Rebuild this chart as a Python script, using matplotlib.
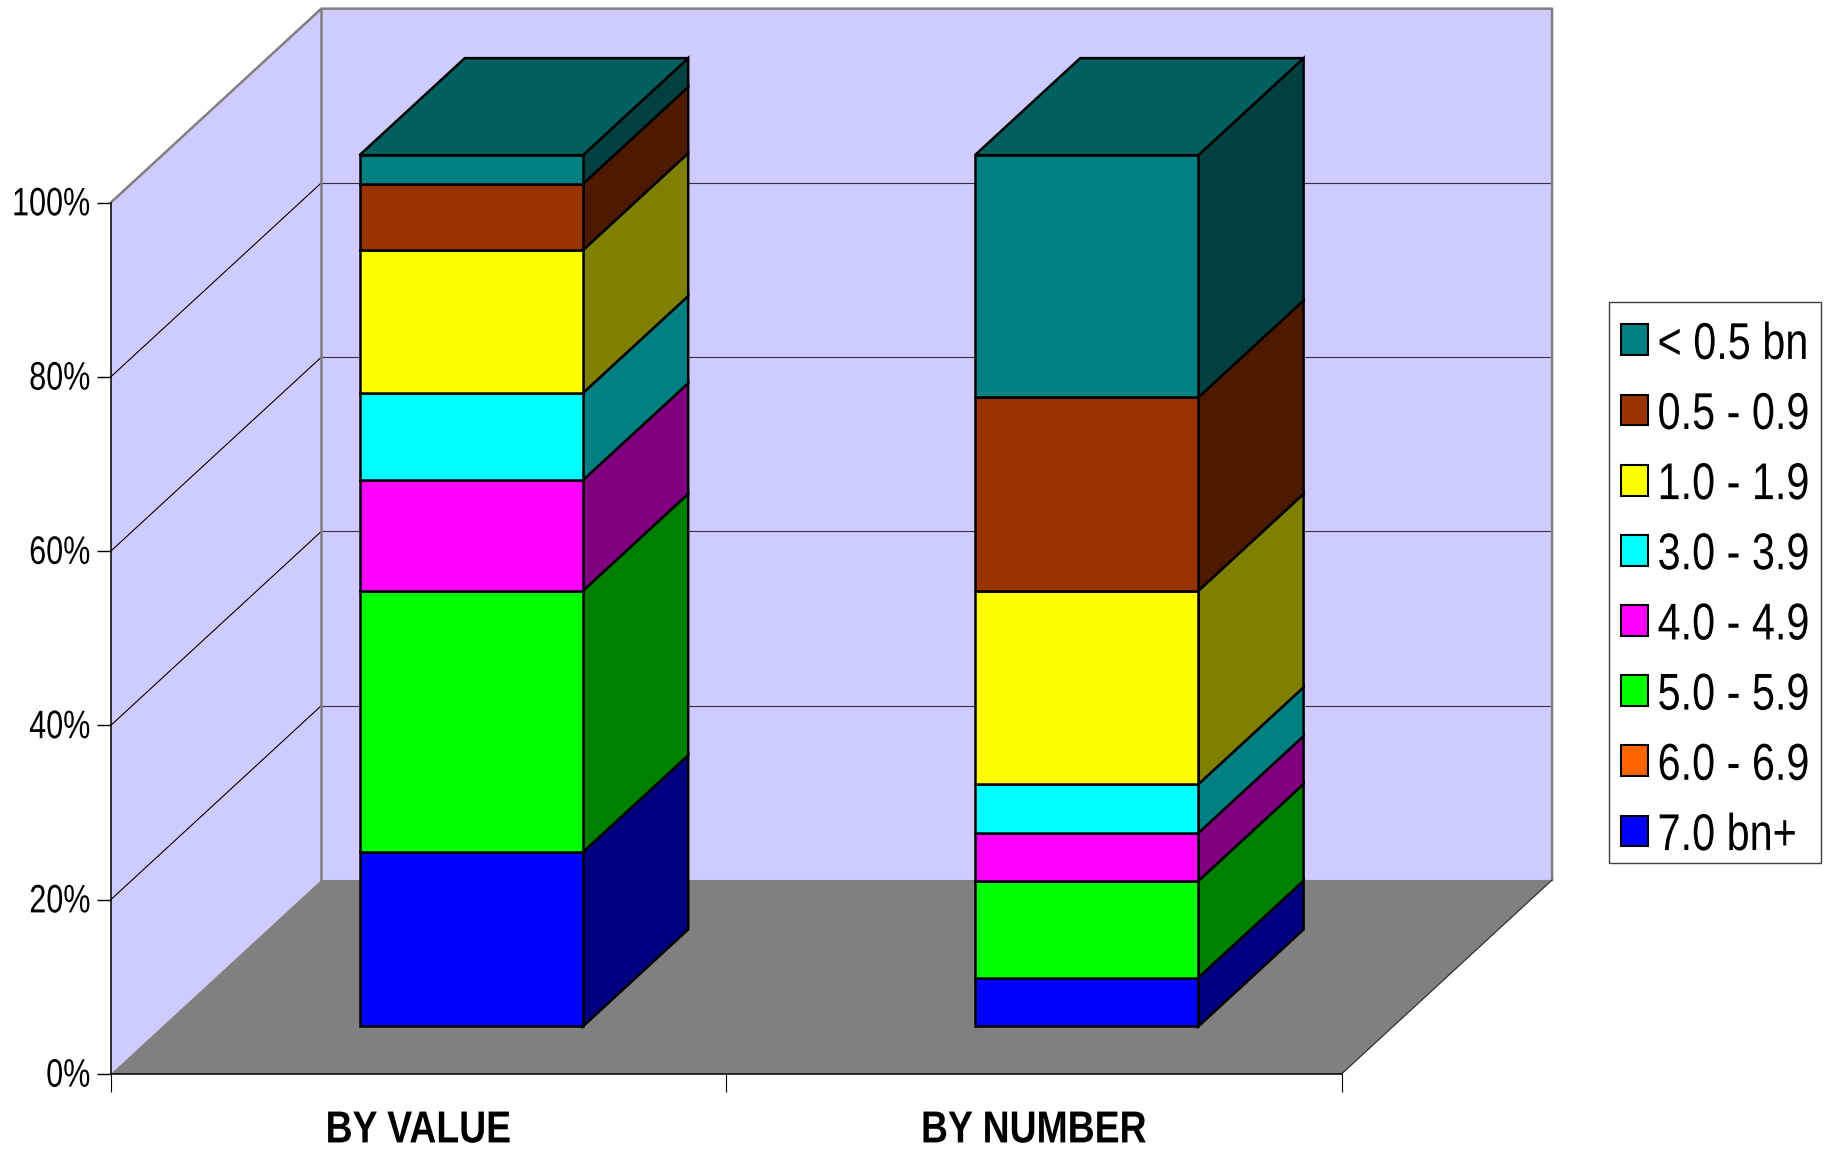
import matplotlib
matplotlib.use("Agg")
import matplotlib.pyplot as plt
from matplotlib.patches import Patch, Polygon, Rectangle
from matplotlib.patheffects import AbstractPathEffect
from matplotlib.transforms import Affine2D

# bottom to top of the stack, in percent
series = ['7.0 bn+', '6.0 - 6.9', '5.0 - 5.9', '4.0 - 4.9', '3.0 - 3.9', '1.0 - 1.9', '0.5 - 0.9', '< 0.5 bn']
by_value = [20, 0, 30, 12.7, 10, 16.4, 7.6, 3.3]
by_number = [5.6, 0, 11.1, 5.5, 5.6, 22.2, 22.2, 27.8]
categories = ['BY VALUE', 'BY NUMBER']
y_ticks = [0, 20, 40, 60, 80, 100]

front_colors = ['#0000FF', '#FF6600', '#00FF00', '#FF00FF', '#00FFFF', '#FFFF00', '#993300', '#008080']
side_colors = ['#000080', '#803300', '#008000', '#800080', '#008080', '#808000', '#4D1A00', '#004040']
top_color = '#006060'

W, H = 1829, 1149
fig = plt.figure(figsize=(W / 100, H / 100), dpi=100, facecolor='white')
ax = fig.add_axes([110.7 / W, (H - 1074) / H, 1230.8 / W, 871.3 / H])
ax.set_xlim(0, 2)
ax.set_ylim(0, 100)
ax.patch.set_visible(False)

FONT = 'Liberation Sans'


class Stretch(AbstractPathEffect):
    # the reference text is tall and narrow, so stretch glyphs up about their middle
    def __init__(self, sy, lift=0):
        super().__init__()
        self.sy = sy
        self.lift = lift

    def draw_path(self, renderer, gc, tpath, affine, rgbFace=None):
        ext = tpath.get_extents()
        mid = (ext.y0 + ext.y1) / 2
        tall = Affine2D().translate(0, -mid).scale(1, self.sy).translate(0, mid)
        renderer.draw_path(gc, tpath, tall + affine + Affine2D().translate(0, self.lift), rgbFace)


# oblique depth: d=1 is the back wall
DX = 0.3422
DY = 22.27


def proj(x, y, d):
    return (x + d * DX, y + d * DY)


def face(points, color, edge='none', lw=0.0, z=1):
    ax.add_patch(Polygon(points, closed=True, facecolor=color, edgecolor=edge,
                         linewidth=lw, joinstyle='miter', clip_on=False, zorder=z))


# walls and floor
wall = '#CCCCFF'
grey = '#808080'
face([proj(0, 0, 0), proj(0, 100, 0), proj(0, 100, 1), proj(0, 0, 1)], wall)
face([proj(0, 0, 1), proj(0, 100, 1), proj(2, 100, 1), proj(2, 0, 1)], wall)
face([proj(0, 0, 0), proj(0, 0, 1), proj(2, 0, 1), proj(2, 0, 0)], grey)

for y in y_ticks[1:-1]:
    xs, ys = zip(proj(0, y, 0), proj(0, y, 1))
    ax.plot(xs, ys, color='black', lw=0.8, clip_on=False, zorder=2)
    xs, ys = zip(proj(0, y, 1), proj(2, y, 1))
    ax.plot(xs, ys, color='#303040', lw=0.8, clip_on=False, zorder=2)

xs, ys = zip(proj(0, 100, 0), proj(0, 100, 1), proj(2, 100, 1), proj(2, 0, 1))
ax.plot(xs, ys, color=grey, lw=1.8, clip_on=False, zorder=2)
xs, ys = zip(proj(0, 100, 1), proj(0, 0, 1))
ax.plot(xs, ys, color=grey, lw=1.8, clip_on=False, zorder=2)
xs, ys = zip(proj(2, 0, 0), proj(2, 0, 1))
ax.plot(xs, ys, color='#303030', lw=0.9, clip_on=False, zorder=2)

# stacked 3d bars
bar_w = 0.363
d0 = 0.245
d1 = 0.745
edge_lw = 1.8
for i, values in enumerate([by_value, by_number]):
    x0 = i + 0.502 - bar_w / 2
    x1 = i + 0.502 + bar_w / 2
    base = 0
    for val, fc, sc in zip(values, front_colors, side_colors):
        if val == 0:
            continue
        top = base + val
        face([proj(x1, base, d0), proj(x1, top, d0), proj(x1, top, d1), proj(x1, base, d1)],
             sc, 'black', edge_lw, 3)
        face([proj(x0, base, d0), proj(x0, top, d0), proj(x1, top, d0), proj(x1, base, d0)],
             fc, 'black', edge_lw, 4)
        base = top
    face([proj(x0, base, d0), proj(x0, base, d1), proj(x1, base, d1), proj(x1, base, d0)],
         top_color, 'black', edge_lw, 5)

# axes
for side in ['top', 'right']:
    ax.spines[side].set_visible(False)
for side in ['left', 'bottom']:
    ax.spines[side].set_linewidth(1.1)
    ax.spines[side].set_zorder(6)

ax.set_yticks(y_ticks)
ax.set_yticklabels([f'{t}%' for t in y_ticks], fontfamily=FONT, fontsize=22)
ax.tick_params(axis='y', length=10, width=1.0, pad=4.5)
for lab in ax.get_yticklabels():
    lab.set_path_effects([Stretch(1.3, lift=2)])

ax.set_xticks([0, 1, 2])
ax.set_xticklabels([])
ax.tick_params(axis='x', which='major', length=13, width=0.8)
ax.set_xticks([0.5, 1.5], minor=True)
ax.set_xticklabels(categories, minor=True, fontfamily=FONT, fontsize=26.9, fontweight='bold')
ax.tick_params(axis='x', which='minor', length=0, pad=28)
for lab in ax.get_xticklabels(minor=True):
    lab.set_path_effects([Stretch(1.2)])

# legend, frame drawn on its own so the padding can differ top and side
fig.add_artist(Rectangle((1608.7 / W, 1 - 863 / H), 212.3 / W, 560.7 / H, transform=fig.transFigure,
                         facecolor='white', edgecolor='#404040', linewidth=1.0, zorder=1))
handles = [Patch(facecolor=c, edgecolor='black', linewidth=1.5, label=s)
           for c, s in zip(front_colors[::-1], series[::-1])]
leg = fig.legend(handles=handles, loc='upper left', bbox_to_anchor=(1607.5 / W, 1 - 311 / H),
                 borderaxespad=0, frameon=False,
                 prop={'family': FONT, 'size': 29.8}, handlelength=0.65, handleheight=0.77,
                 handletextpad=0.24, labelspacing=0.777, borderpad=0.32)
leg.set_zorder(2)
for t in leg.get_texts():
    t.set_path_effects([Stretch(1.25, lift=-1)])

fig.savefig('out.png', dpi=100, facecolor='white')
